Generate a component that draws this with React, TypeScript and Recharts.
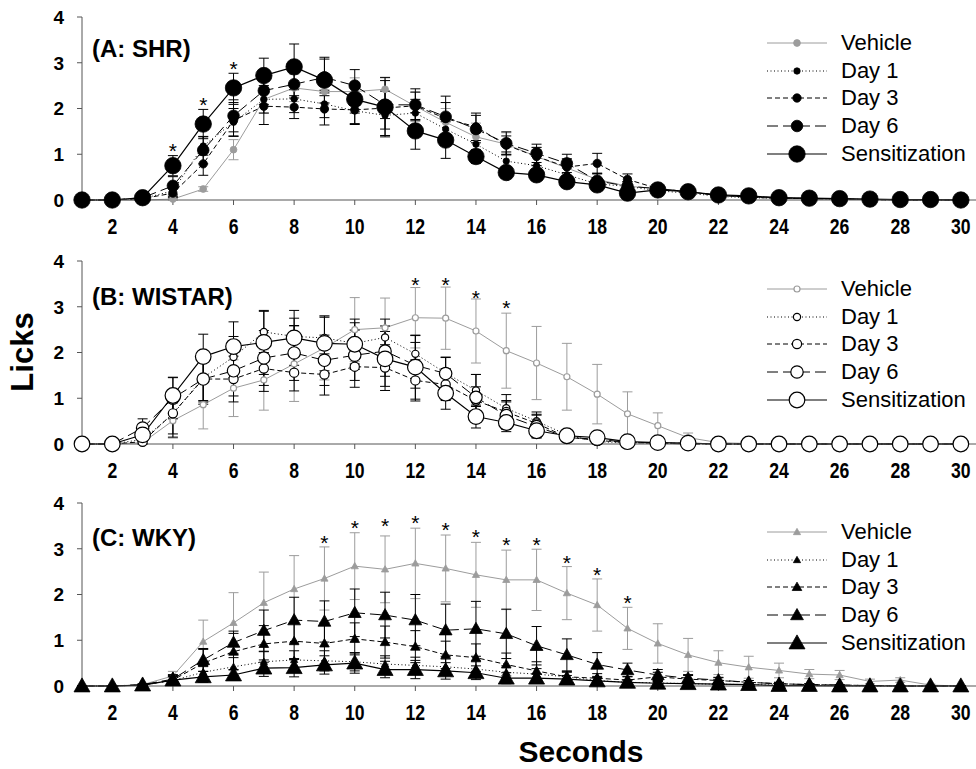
import React from 'react'
import { LineChart, Line, XAxis, YAxis, ErrorBar, Legend } from 'recharts'

const SECONDS = [1, 2, 3, 4, 5, 6, 7, 8, 9, 10, 11, 12, 13, 14, 15, 16, 17, 18, 19, 20, 21, 22, 23, 24, 25, 26, 27, 28, 29, 30]
const X_TICKS = [2, 4, 6, 8, 10, 12, 14, 16, 18, 20, 22, 24, 26, 28, 30]
const Y_TICKS = [0, 1, 2, 3, 4]
const GROUPS = ['Vehicle', 'Day 1', 'Day 3', 'Day 6', 'Sensitization']

// (A: SHR)
const SHR_VEHICLE = [0, 0, 0, 0.02, 0.24, 1.1, 2.2, 2.45, 2.37, 2.37, 2.42, 2.05, 1.7, 1.38, 1.22, 0.95, 0.7, 0.45, 0.3, 0.25, 0.18, 0.1, 0.06, 0.04, 0.03, 0.02, 0.01, 0, 0, 0]
const SHR_VEHICLE_SEM = [0, 0, 0, 0.02, 0.05, 0.22, 0.3, 0.3, 0.25, 0.3, 0.25, 0.3, 0.3, 0.3, 0.25, 0.2, 0.2, 0.15, 0.1, 0.08, 0.06, 0.05, 0.03, 0.02, 0.02, 0.01, 0.01, 0, 0, 0]
const SHR_DAY1 = [0, 0, 0.03, 0.2, 1.18, 1.7, 2.2, 2.21, 2.1, 1.95, 1.85, 1.9, 1.55, 1.22, 0.85, 0.75, 0.55, 0.35, 0.3, 0.2, 0.15, 0.08, 0.05, 0.04, 0.03, 0.02, 0.01, 0, 0, 0]
const SHR_DAY1_SEM = [0, 0, 0.02, 0.12, 0.2, 0.3, 0.3, 0.3, 0.3, 0.3, 0.3, 0.3, 0.3, 0.25, 0.2, 0.2, 0.15, 0.1, 0.1, 0.08, 0.06, 0.04, 0.03, 0.02, 0.02, 0.01, 0.01, 0, 0, 0]
const SHR_DAY3 = [0, 0, 0.03, 0.15, 0.79, 1.74, 2.05, 2.03, 1.99, 1.97, 2.01, 2.06, 1.78, 1.6, 1.2, 0.95, 0.72, 0.8, 0.45, 0.25, 0.18, 0.1, 0.06, 0.04, 0.03, 0.02, 0.01, 0, 0, 0]
const SHR_DAY3_SEM = [0, 0, 0.02, 0.1, 0.25, 0.35, 0.4, 0.25, 0.35, 0.3, 0.6, 0.3, 0.35, 0.3, 0.2, 0.2, 0.18, 0.22, 0.12, 0.08, 0.06, 0.04, 0.03, 0.02, 0.01, 0.01, 0, 0, 0, 0]
const SHR_DAY6 = [0, 0, 0.05, 0.31, 1.09, 1.84, 2.39, 2.53, 2.68, 2.5, 2.08, 2.08, 1.82, 1.55, 1.24, 1.02, 0.8, 0.42, 0.3, 0.25, 0.18, 0.1, 0.07, 0.05, 0.03, 0.02, 0.01, 0, 0, 0]
const SHR_DAY6_SEM = [0, 0, 0.03, 0.2, 0.3, 0.35, 0.3, 0.3, 0.4, 0.35, 0.3, 0.35, 0.45, 0.3, 0.25, 0.2, 0.2, 0.15, 0.1, 0.08, 0.06, 0.05, 0.03, 0.02, 0.02, 0.01, 0, 0, 0, 0]
const SHR_SENS = [0, 0, 0.05, 0.75, 1.66, 2.45, 2.72, 2.91, 2.62, 2.2, 2.03, 1.51, 1.31, 0.95, 0.6, 0.55, 0.4, 0.33, 0.15, 0.22, 0.18, 0.11, 0.09, 0.05, 0.04, 0.03, 0.02, 0.01, 0.01, 0]
const SHR_SENS_SEM = [0, 0, 0.02, 0.22, 0.32, 0.32, 0.38, 0.5, 0.5, 0.3, 0.65, 0.4, 0.4, 0.15, 0.1, 0.12, 0.1, 0.08, 0.05, 0.05, 0.04, 0.03, 0.02, 0.02, 0.01, 0.01, 0, 0, 0, 0]
const SHR_STAR_SECONDS = [4, 5, 6]
const SHR_STAR_HEIGHT = [1.19, 2.19, 2.97]

// (B: WISTAR)
const WIS_VEHICLE = [0, 0, 0.03, 0.51, 0.86, 1.22, 1.4, 1.75, 2.1, 2.5, 2.54, 2.76, 2.75, 2.47, 2.04, 1.77, 1.47, 1.09, 0.66, 0.4, 0.14, 0.03, 0.01, 0, 0, 0, 0, 0, 0, 0]
const WIS_VEHICLE_SEM = [0, 0, 0.02, 0.38, 0.53, 0.62, 0.66, 0.82, 0.7, 0.7, 0.65, 0.66, 0.68, 0.7, 0.82, 0.8, 0.73, 0.65, 0.48, 0.28, 0.1, 0.02, 0, 0, 0, 0, 0, 0, 0, 0]
const WIS_DAY1 = [0, 0, 0.1, 0.65, 1.45, 1.9, 2.45, 2.35, 2.32, 2.2, 2.33, 1.97, 1.55, 1.17, 0.78, 0.5, 0.2, 0.05, 0.03, 0.02, 0.01, 0, 0, 0, 0, 0, 0, 0, 0, 0]
const WIS_DAY1_SEM = [0, 0, 0.1, 0.5, 0.5, 0.45, 0.45, 0.4, 0.45, 0.45, 0.4, 0.4, 0.35, 0.35, 0.3, 0.2, 0.1, 0.05, 0.02, 0.01, 0, 0, 0, 0, 0, 0, 0, 0, 0, 0]
const WIS_DAY3 = [0, 0, 0.05, 0.67, 1.42, 1.42, 1.65, 1.56, 1.52, 1.69, 1.67, 1.39, 1.3, 0.95, 0.7, 0.45, 0.15, 0.08, 0.03, 0.02, 0.01, 0, 0, 0, 0, 0, 0, 0, 0, 0]
const WIS_DAY3_SEM = [0, 0, 0.05, 0.45, 0.5, 0.5, 0.5, 0.4, 0.45, 0.45, 0.5, 0.45, 0.35, 0.3, 0.25, 0.2, 0.1, 0.05, 0.02, 0.01, 0, 0, 0, 0, 0, 0, 0, 0, 0, 0]
const WIS_DAY6 = [0, 0, 0.35, 1.0, 1.42, 1.6, 1.88, 1.99, 1.83, 1.94, 2.03, 1.72, 1.54, 1.02, 0.62, 0.38, 0.15, 0.1, 0.04, 0.02, 0, 0, 0, 0, 0, 0, 0, 0, 0, 0]
const WIS_DAY6_SEM = [0, 0, 0.2, 0.45, 0.55, 0.55, 0.6, 0.6, 0.55, 0.55, 0.55, 0.5, 0.35, 0.5, 0.3, 0.25, 0.1, 0.05, 0.02, 0.01, 0, 0, 0, 0, 0, 0, 0, 0, 0, 0]
const WIS_SENS = [0, 0, 0.2, 1.06, 1.91, 2.13, 2.22, 2.32, 2.2, 2.18, 1.86, 1.68, 1.11, 0.6, 0.47, 0.29, 0.18, 0.14, 0.05, 0.03, 0.02, 0, 0, 0, 0, 0, 0, 0, 0, 0]
const WIS_SENS_SEM = [0, 0, 0.15, 0.4, 0.49, 0.54, 0.7, 0.6, 0.6, 0.55, 0.6, 0.7, 0.35, 0.25, 0.2, 0.15, 0.1, 0.05, 0.03, 0.02, 0.01, 0, 0, 0, 0, 0, 0, 0, 0, 0]
const WIS_STAR_SECONDS = [12, 13, 14, 15]
const WIS_STAR_HEIGHT = [3.59, 3.59, 3.31, 3.08]

// (C: WKY)
const WKY_VEHICLE = [0, 0, 0.03, 0.22, 0.97, 1.38, 1.82, 2.12, 2.35, 2.62, 2.55, 2.68, 2.57, 2.43, 2.32, 2.32, 2.03, 1.77, 1.26, 0.93, 0.68, 0.51, 0.41, 0.34, 0.26, 0.24, 0.1, 0.13, 0.02, 0]
const WKY_VEHICLE_SEM = [0, 0, 0.02, 0.1, 0.47, 0.66, 0.67, 0.73, 0.69, 0.73, 0.73, 0.77, 0.73, 0.71, 0.65, 0.67, 0.58, 0.57, 0.46, 0.43, 0.36, 0.26, 0.24, 0.16, 0.1, 0.1, 0.05, 0.05, 0.02, 0]
const WKY_DAY1 = [0, 0, 0.02, 0.12, 0.3, 0.42, 0.53, 0.57, 0.55, 0.53, 0.48, 0.45, 0.42, 0.37, 0.3, 0.26, 0.2, 0.12, 0.08, 0.07, 0.05, 0.04, 0.03, 0.02, 0.01, 0.01, 0, 0, 0, 0]
const WKY_DAY1_SEM = [0, 0, 0.01, 0.08, 0.15, 0.2, 0.22, 0.2, 0.22, 0.2, 0.18, 0.18, 0.17, 0.16, 0.14, 0.12, 0.1, 0.07, 0.05, 0.04, 0.03, 0.03, 0.02, 0.01, 0.01, 0, 0, 0, 0, 0]
const WKY_DAY3 = [0, 0, 0.02, 0.13, 0.5, 0.75, 0.92, 0.98, 0.93, 1.03, 0.96, 0.86, 0.68, 0.62, 0.47, 0.33, 0.2, 0.17, 0.13, 0.2, 0.15, 0.12, 0.08, 0.05, 0.03, 0.02, 0.01, 0, 0, 0]
const WKY_DAY3_SEM = [0, 0, 0.01, 0.1, 0.3, 0.4, 0.4, 0.4, 0.45, 0.35, 0.35, 0.35, 0.3, 0.3, 0.25, 0.2, 0.12, 0.1, 0.08, 0.1, 0.08, 0.06, 0.04, 0.03, 0.02, 0.01, 0, 0, 0, 0]
const WKY_DAY6 = [0, 0, 0.03, 0.15, 0.57, 0.95, 1.21, 1.44, 1.41, 1.6, 1.55, 1.44, 1.22, 1.25, 1.14, 0.88, 0.68, 0.47, 0.35, 0.24, 0.17, 0.13, 0.08, 0.05, 0.03, 0.02, 0.01, 0, 0, 0]
const WKY_DAY6_SEM = [0, 0, 0.02, 0.1, 0.25, 0.25, 0.45, 0.5, 0.45, 0.52, 0.5, 0.56, 0.57, 0.6, 0.54, 0.42, 0.35, 0.26, 0.15, 0.12, 0.08, 0.06, 0.04, 0.03, 0.02, 0.01, 0, 0, 0, 0]
const WKY_SENS = [0, 0, 0.02, 0.13, 0.2, 0.24, 0.39, 0.4, 0.46, 0.5, 0.36, 0.36, 0.33, 0.29, 0.17, 0.17, 0.15, 0.11, 0.08, 0.06, 0.05, 0.04, 0.03, 0.01, 0.01, 0, 0, 0, 0, 0]
const WKY_SENS_SEM = [0, 0, 0.01, 0.08, 0.12, 0.12, 0.18, 0.2, 0.2, 0.22, 0.18, 0.2, 0.18, 0.15, 0.12, 0.1, 0.08, 0.07, 0.05, 0.04, 0.03, 0.03, 0.02, 0.01, 0.01, 0, 0, 0, 0, 0]
const WKY_STAR_SECONDS = [9, 10, 11, 12, 13, 14, 15, 16, 17, 18, 19]
const WKY_STAR_HEIGHT = [3.24, 3.56, 3.61, 3.67, 3.52, 3.36, 3.19, 3.19, 2.8, 2.54, 1.92]

const FONT = "'Liberation Sans', Arial, Helvetica, sans-serif"
const GRAY = '#9c9c9c'
const AXIS = '#555'

const LINE_STYLES = [
  { color: GRAY, dash: undefined, width: 1 },
  { color: '#000', dash: '1 2.5', width: 1 },
  { color: '#000', dash: '5 3', width: 1 },
  { color: '#000', dash: '11 5', width: 1 },
  { color: '#000', dash: undefined, width: 1.2 },
]

type MarkerKind = 'filled' | 'open' | 'triangle'

function drawMarker(kind: MarkerKind, k: number, cx: number, cy: number, r: number, key?: any) {
  const col = k === 0 ? GRAY : '#000'
  if (kind === 'triangle') {
    const h = r * 1.75
    const pts = `${cx},${cy - h * 0.58} ${cx - r},${cy + h * 0.42} ${cx + r},${cy + h * 0.42}`
    return <polygon key={key} points={pts} fill={col} stroke={col} strokeWidth={0.8} />
  }
  if (kind === 'open') {
    return <circle key={key} cx={cx} cy={cy} r={r} fill="#fff" stroke={col} strokeWidth={1.2} />
  }
  return <circle key={key} cx={cx} cy={cy} r={r} fill={col} stroke={col} strokeWidth={0.8} />
}

const PANELS = [
  {
    label: '(A: SHR)', top: 5, labelY: 57, legendTop: 24, kind: 'filled' as MarkerKind,
    sizes: [3.4, 3.2, 4.2, 5.8, 8.2],
    series: [SHR_VEHICLE, SHR_DAY1, SHR_DAY3, SHR_DAY6, SHR_SENS],
    sems: [SHR_VEHICLE_SEM, SHR_DAY1_SEM, SHR_DAY3_SEM, SHR_DAY6_SEM, SHR_SENS_SEM],
    starX: SHR_STAR_SECONDS, starY: SHR_STAR_HEIGHT,
  },
  {
    label: '(B: WISTAR)', top: 249, labelY: 305, legendTop: 26, kind: 'open' as MarkerKind,
    sizes: [3, 3.6, 4.6, 6.2, 7.8],
    series: [WIS_VEHICLE, WIS_DAY1, WIS_DAY3, WIS_DAY6, WIS_SENS],
    sems: [WIS_VEHICLE_SEM, WIS_DAY1_SEM, WIS_DAY3_SEM, WIS_DAY6_SEM, WIS_SENS_SEM],
    starX: WIS_STAR_SECONDS, starY: WIS_STAR_HEIGHT,
  },
  {
    label: '(C: WKY)', top: 491, labelY: 546, legendTop: 27, kind: 'triangle' as MarkerKind,
    sizes: [3.6, 3.6, 4.8, 6.4, 8],
    series: [WKY_VEHICLE, WKY_DAY1, WKY_DAY3, WKY_DAY6, WKY_SENS],
    sems: [WKY_VEHICLE_SEM, WKY_DAY1_SEM, WKY_DAY3_SEM, WKY_DAY6_SEM, WKY_SENS_SEM],
    starX: WKY_STAR_SECONDS, starY: WKY_STAR_HEIGHT,
  },
]

function buildRows(p: typeof PANELS[number]) {
  return SECONDS.map((s, i) => {
    const row: any = { s }
    p.series.forEach((vals, k) => {
      const e = p.sems[k][i]
      row['v' + k] = vals[i]
      row['e' + k] = [Math.min(e, vals[i]), e]
    })
    const j = p.starX.indexOf(s)
    row.star = j >= 0 ? p.starY[j] : null
    return row
  })
}

const XTick = (props: any) => {
  const { x, y, payload } = props
  return (
    <text transform={`translate(${x},${y}) scale(0.8,1)`} textAnchor="middle" dy="0.71em"
      fontFamily={FONT} fontWeight="bold" fontSize={22} fill="#000">
      {payload.value}
    </text>
  )
}

const YTick = (props: any) => {
  const { x, y, payload } = props
  return (
    <text x={x} y={y} dy="0.36em" textAnchor="end" fontFamily={FONT} fontWeight="bold" fontSize={19} fill="#000">
      {payload.value}
    </text>
  )
}

const renderStar = (props: any) => {
  const { cx, cy, index, value } = props
  if (cx == null || cy == null || value == null) return <g key={'st' + index} />
  return (
    <text key={'st' + index} x={cx} y={cy + 12} textAnchor="middle" fontFamily={FONT} fontSize={21} fill="#000">*</text>
  )
}

function PanelLegend({ kind, sizes }: { kind: MarkerKind; sizes: number[] }) {
  return (
    <div style={{ fontFamily: FONT, fontSize: 22, color: '#000' }}>
      {GROUPS.map((g, k) => (
        <div key={g} style={{ display: 'flex', alignItems: 'center', height: 27.7 }}>
          <svg width={62} height={28} style={{ display: 'block' }}>
            <line x1={1} x2={61} y1={14} y2={14} stroke={LINE_STYLES[k].color}
              strokeWidth={LINE_STYLES[k].width} strokeDasharray={LINE_STYLES[k].dash} />
            {drawMarker(kind, k, 31, 14, sizes[k])}
          </svg>
          <span style={{ marginLeft: 13, lineHeight: '28px', whiteSpace: 'nowrap' }}>{g}</span>
        </div>
      ))}
    </div>
  )
}

function Panel({ p }: { p: typeof PANELS[number] }) {
  const rows = buildRows(p)
  return (
    <div style={{ position: 'absolute', left: 0, top: p.top, width: 976, height: 235 }}>
      <LineChart width={976} height={235} data={rows} margin={{ top: 12, right: 0, bottom: 0, left: 0 }}>
        <XAxis type="number" dataKey="s" domain={[1, 30.5]} ticks={X_TICKS} interval={0} height={40}
          stroke={AXIS} tickSize={5} tickMargin={13} tick={<XTick />} />
        <YAxis type="number" domain={[0, 4]} ticks={Y_TICKS} width={82} stroke={AXIS}
          tickSize={5} tickMargin={13} tick={<YTick />} />
        {GROUPS.map((g, k) => (
          <Line key={g} name={g} dataKey={'v' + k} stroke={LINE_STYLES[k].color}
            strokeWidth={LINE_STYLES[k].width} strokeDasharray={LINE_STYLES[k].dash}
            dot={(d: any) => (d.cx == null || d.cy == null ? <g key={'d' + d.index} /> : drawMarker(p.kind, k, d.cx, d.cy, p.sizes[k], 'd' + d.index))}
            activeDot={false} isAnimationActive={false}>
            <ErrorBar dataKey={'e' + k} direction="y" width={5} stroke={k === 0 ? GRAY : '#000'} strokeWidth={1} />
          </Line>
        ))}
        <Line dataKey="star" stroke="none" dot={renderStar} activeDot={false} legendType="none" isAnimationActive={false} />
        <Legend layout="vertical" align="center" verticalAlign="middle"
          wrapperStyle={{ left: 766, top: p.legendTop, width: 210 }}
          content={() => <PanelLegend kind={p.kind} sizes={p.sizes} />} />
      </LineChart>
    </div>
  )
}

export default function App() {
  return (
    <div style={{ position: 'absolute', left: 0, top: 0, width: 976, height: 769, background: '#fff' }}>
      {PANELS.map((p) => <Panel key={p.label} p={p} />)}
      <svg width={976} height={769} style={{ position: 'absolute', left: 0, top: 0, pointerEvents: 'none' }}>
        {PANELS.map((p) => (
          <text key={p.label} x={92} y={p.labelY} fontFamily={FONT} fontWeight="bold" fontSize={24} fill="#000">{p.label}</text>
        ))}
        <text transform="translate(33,352) rotate(-90)" textAnchor="middle" fontFamily={FONT} fontWeight="bold" fontSize={31} fill="#000">Licks</text>
        <text x={581} y={762} textAnchor="middle" fontFamily={FONT} fontWeight="bold" fontSize={30} fill="#000">Seconds</text>
      </svg>
    </div>
  )
}
